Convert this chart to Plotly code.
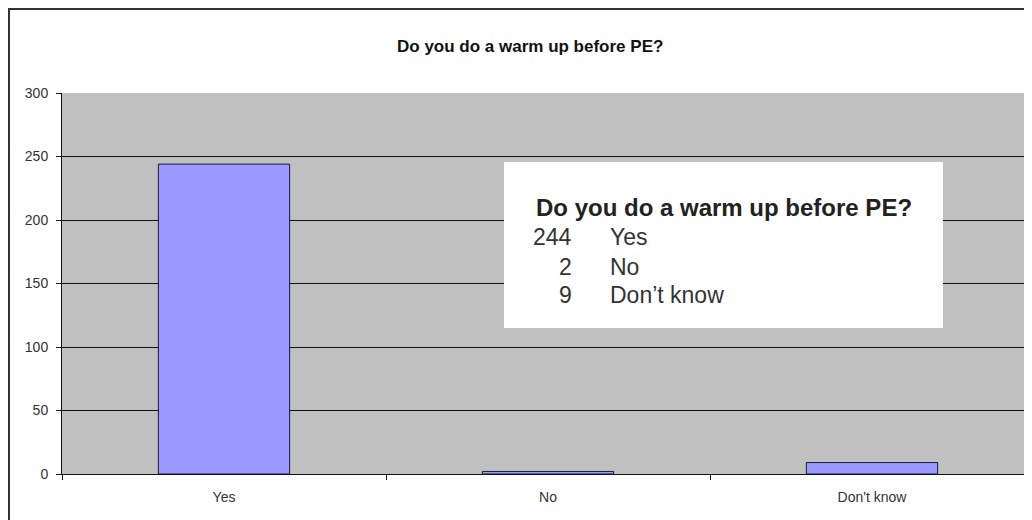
import plotly.graph_objects as go

categories = ["Yes", "No", "Don't know"]
counts = [244, 2, 9]
title_text = "Do you do a warm up before PE?"
y_ticks = [0, 50, 100, 150, 200, 250, 300]

W, H = 1032, 520
OFF = 8  # page body margin of the browser
ML, MR, MT, MB = 54, 6, 85, 54
PW = W - ML - MR
PH = H - MT - MB


def px(sx):
    return (sx - OFF - ML) / PW


def py(sy):
    return (H - MB - (sy - OFF)) / PH


FONT = "Liberation Sans, Arial, sans-serif"

fig = go.Figure()
fig.add_trace(go.Bar(
    x=categories, y=counts, width=0.405,
    marker=dict(color="#9999FF", line=dict(color="#1a1a3a", width=1)),
    hoverinfo="x+y",
))

fig.update_layout(
    width=W, height=H,
    margin=dict(l=ML, r=MR, t=MT, b=MB, pad=0),
    paper_bgcolor="white",
    plot_bgcolor="#C0C0C0",
    showlegend=False,
    font=dict(family=FONT, size=14, color="#333333"),
)
fig.update_yaxes(
    range=[0, 300], tickvals=y_ticks, showgrid=True, gridcolor="#111111", gridwidth=1,
    showline=True, linecolor="#111111", linewidth=1, ticks="outside", ticklen=5,
    tickcolor="#111111", zeroline=False, tickfont=dict(size=14, color="#333333"),
    ticklabelstandoff=5, fixedrange=True,
)
fig.update_xaxes(
    range=[-0.5, 2.5], showline=True, linecolor="#111111", linewidth=1,
    ticks="outside", ticklen=5, tickcolor="#111111", tickson="boundaries",
    tickfont=dict(size=14, color="#333333"), ticklabelstandoff=10,
    showgrid=False, fixedrange=True,
)

# outer chart border (right/bottom cut off in the picture)
fig.add_shape(type="rect", xref="paper", yref="paper",
              x0=px(9), x1=px(1060), y0=py(540), y1=py(9),
              line=dict(color="#333333", width=2), fillcolor="rgba(0,0,0,0)", layer="above")

fig.add_annotation(text="<b>" + title_text + "</b>", xref="paper", yref="paper",
                   x=px(530), y=py(47), xanchor="center", yanchor="middle",
                   showarrow=False, font=dict(family=FONT, size=17, color="#111111"))

# white info box
fig.add_shape(type="rect", xref="paper", yref="paper",
              x0=px(504), x1=px(943), y0=py(328), y1=py(162),
              line=dict(width=0), fillcolor="white", layer="above")
fig.add_annotation(text="<b>" + title_text + "</b>", xref="paper", yref="paper",
                   x=px(534), y=py(207), xanchor="left", yanchor="middle",
                   showarrow=False, font=dict(family=FONT, size=24, color="#222222"))
row_y = [237, 267, 295]
for cat, n, yy in zip(categories, counts, row_y):
    fig.add_annotation(text=str(n), xref="paper", yref="paper",
                       x=px(574), y=py(yy), xanchor="right", yanchor="middle",
                       showarrow=False, font=dict(family=FONT, size=23, color="#333333"))
    fig.add_annotation(text=cat.replace("'", "’"), xref="paper", yref="paper",
                       x=px(608), y=py(yy), xanchor="left", yanchor="middle",
                       showarrow=False, font=dict(family=FONT, size=23, color="#333333"))

fig.write_html("out.html")
